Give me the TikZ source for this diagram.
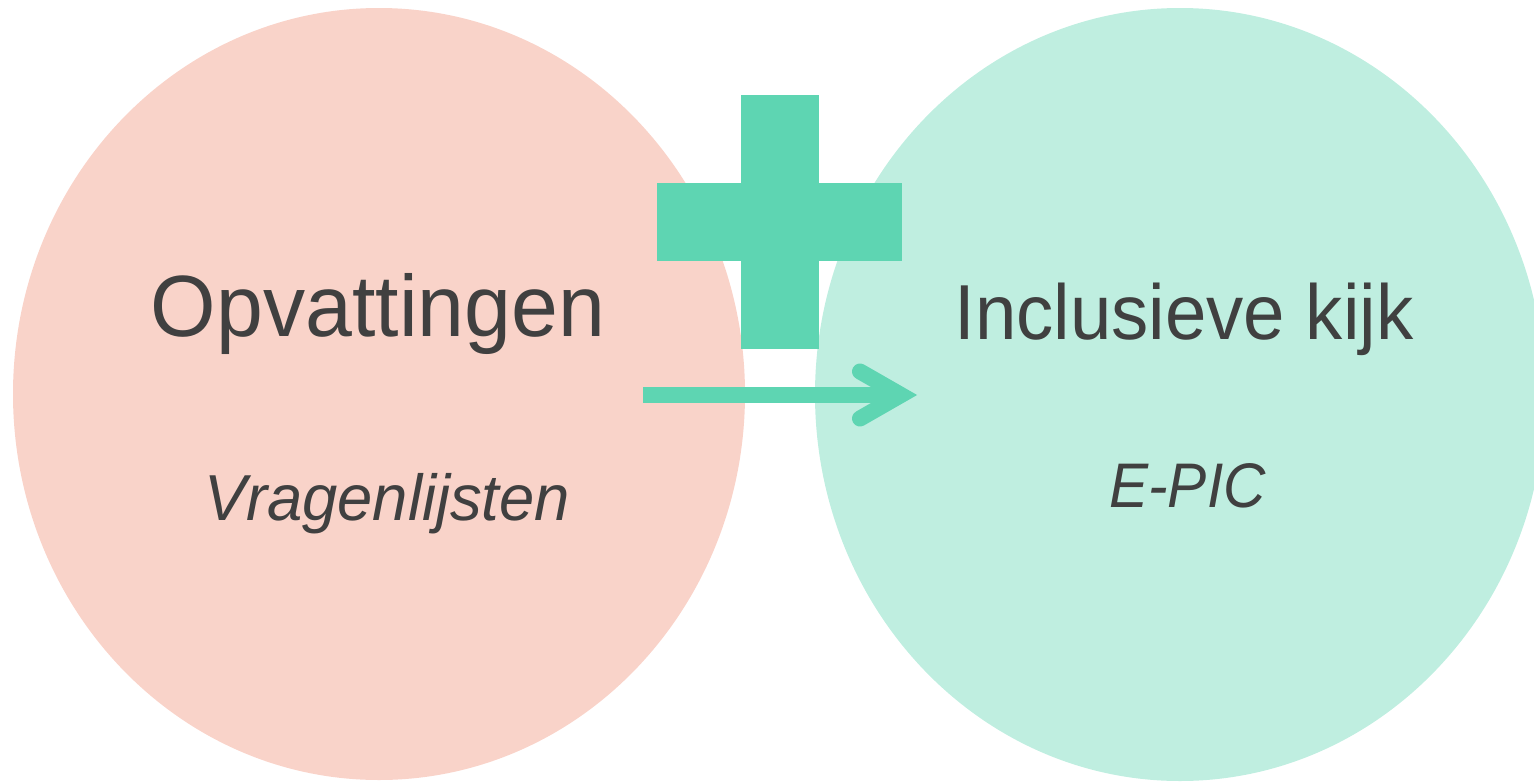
\documentclass[tikz,border=0pt]{standalone}
\usepackage{fontspec}
\setmainfont{Liberation Sans}
\usetikzlibrary{shapes.geometric,calc}
\definecolor{pinkfill}{HTML}{F9D3C9}
\definecolor{mintfill}{HTML}{BFEEE0}
\definecolor{plusgreen}{HTML}{5ED5B2}
\definecolor{textgray}{HTML}{404040}
\begin{document}
\begin{tikzpicture}[x=1pt,y=-1pt,
  blob/.style={ellipse,draw=none,inner sep=0pt},
  bar/.style={rectangle,fill=plusgreen,draw=none,inner sep=0pt},
  title/.style={anchor=base,text=textgray,inner sep=0pt},
  arrowline/.style={draw=plusgreen,line width=16pt},
  arrowhead/.style={draw=plusgreen,line width=16pt,line cap=round,line join=miter}]
\useasboundingbox (0,0) rectangle (1534,782);
\node[blob,fill=pinkfill,minimum width=732pt,minimum height=772pt] (left) at (379,394) {};
\node[blob,fill=mintfill,minimum width=730pt,minimum height=773pt] (right) at (1180,394.5) {};
\node[bar,minimum width=78pt,minimum height=254pt] (vbar) at (780,222) {};
\node[bar,minimum width=245pt,minimum height=78pt] (hbar) at (779.5,222) {};
\coordinate (as) at (643,395);
\coordinate (tip) at (901,395);
\draw[arrowline] (as) -- (tip);
\draw[arrowhead] ($(tip)+(-41,-23.5)$) -- (tip) -- ($(tip)+(-41,23.5)$);
\node[title,font=\fontsize{87}{100}\selectfont] (t1) at (378,336) {\scalebox{0.968}[1]{Opvattingen}};
\node[title,font=\fontsize{65}{78}\selectfont\itshape] (s1) at (387.5,520) {\scalebox{0.975}[1]{Vragenlijsten}};
\node[title,font=\fontsize{78}{90}\selectfont] (t2) at (1184,339) {\scalebox{0.954}[1]{Inclusieve kijk}};
\node[title,font=\fontsize{63}{76}\selectfont\itshape] (s2) at (1187.5,507) {\scalebox{0.93}[1]{E-PIC}};
\end{tikzpicture}
\end{document}
